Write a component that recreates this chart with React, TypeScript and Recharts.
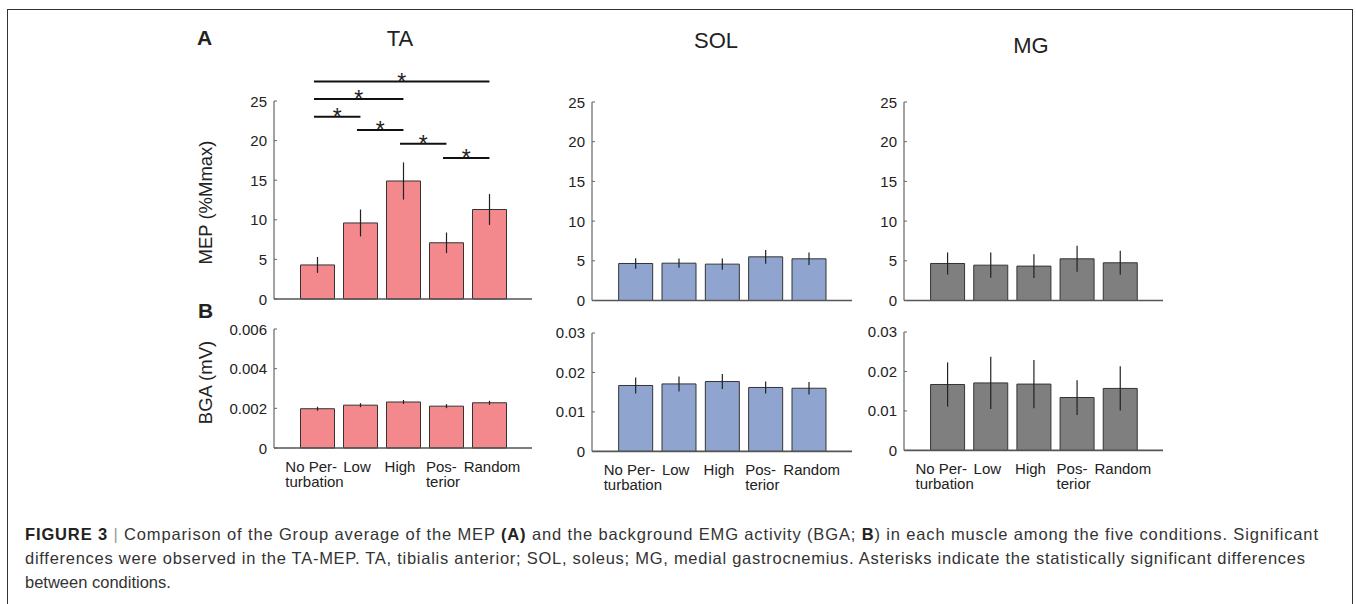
import React from 'react';
import { BarChart, Bar, XAxis, YAxis, ErrorBar, ReferenceLine } from 'recharts';

const conditions = ['No Per-\nturbation', 'Low', 'High', 'Pos-\nterior', 'Random'];

// MEP (%Mmax), group mean and error
const taMep = [4.3, 9.6, 14.9, 7.1, 11.3];
const taMepErr = [1.0, 1.7, 2.35, 1.3, 1.95];
const solMep = [4.66, 4.7, 4.58, 5.5, 5.25];
const solMepErr = [0.67, 0.59, 0.71, 0.86, 0.78];
const mgMep = [4.66, 4.45, 4.33, 5.25, 4.75];
const mgMepErr = [1.39, 1.58, 1.49, 1.64, 1.51];

// BGA (mV)
const taBga = [0.00198, 0.00216, 0.00232, 0.00211, 0.00228];
const taBgaErr = [0.0001, 0.0001, 0.0001, 0.0001, 0.0001];
const solBga = [0.0167, 0.0171, 0.0177, 0.0162, 0.016];
const solBgaErr = [0.002, 0.0019, 0.0019, 0.0015, 0.0016];
const mgBga = [0.0167, 0.0171, 0.0168, 0.0134, 0.0157];
const mgBgaErr = [0.0056, 0.0066, 0.0061, 0.0044, 0.0056];

const mepTicks = [0, 5, 10, 15, 20, 25];
const taBgaTicks = [0, 0.002, 0.004, 0.006];
const bgaTicks = [0, 0.01, 0.02, 0.03];

// significance brackets on TA-MEP
const sigFrom = [1, 1, 1, 2, 3, 4];
const sigTo = [5, 3, 2, 3, 4, 5];
const sigLevel = [27.45, 25.25, 23.0, 21.35, 19.6, 17.8];

const FONT = '"Liberation Sans", Arial, Helvetica, sans-serif';
const TA_RED = '#f4898d';
const SOL_BLUE = '#8fa5d0';
const MG_GREY = '#7f7f7f';

// small nudges of the category labels, as in the original layout
const labelShift = [-2.5, -3, -3, -3, 3];

let ctx: CanvasRenderingContext2D | null = null;
const textWidth = (s: string, size: number) => {
  if (!ctx) ctx = document.createElement('canvas').getContext('2d');
  if (!ctx) return s.length * size * 0.5;
  ctx.font = `${size}px ${FONT}`;
  return ctx.measureText(s).width;
};

const YTick = (props: any) => {
  const { x, y, payload } = props;
  return (
    <g>
      <line x1={x} x2={x + 3} y1={y} y2={y} stroke="#666" />
      <text x={x - 7} y={y} dy={5.5} textAnchor="end" fontSize={15} fontFamily={FONT} fill="#222">
        {String(payload.value)}
      </text>
    </g>
  );
};

const XTick = (props: any) => {
  const { x, y, payload } = props;
  const idx = payload.value - 1;
  const lines = conditions[idx].split('\n');
  const w = Math.max(...lines.map(l => textWidth(l, 15)));
  const x0 = x - w / 2 + labelShift[idx];
  return (
    <text x={x0} y={y + 24} fontSize={15} fontFamily={FONT} fill="#222">
      {lines.map((l, i) => (
        <tspan key={i} x={x0} dy={i === 0 ? 0 : 15}>{l}</tspan>
      ))}
    </text>
  );
};

interface PanelProps {
  left: number;
  right: number;
  top: number;
  bottom: number;
  values: number[];
  errors: number[];
  max: number;
  ticks: number[];
  fill: string;
  labels?: boolean;
  sig?: boolean;
}

const Panel: React.FC<PanelProps> = ({ left, right, top, bottom, values, errors, max, ticks, fill, labels, sig }) => {
  const padTop = sig ? 50 : 10;
  const padBottom = labels ? 50 : 12;
  const yw = 70;
  const data = values.map((v, i) => ({ x: i + 1, v, e: errors[i] }));
  return (
    <div style={{ position: 'absolute', left: left - yw, top: top - padTop }}>
      <BarChart
        width={right - left + yw + 6}
        height={bottom - top + padTop + padBottom}
        data={data}
        margin={{ top: padTop, right: 6, bottom: 0, left: 0 }}
      >
        <Bar dataKey="v" fill={fill} stroke="#333" strokeWidth={1} barSize={34} isAnimationActive={false}>
          <ErrorBar dataKey="e" width={0} stroke="#222" strokeWidth={1.2} direction="y" />
        </Bar>
        {sig &&
          sigFrom.map((f, i) => (
            <ReferenceLine
              key={i}
              ifOverflow="visible"
              segment={[
                { x: f - 0.07, y: sigLevel[i] },
                { x: sigTo[i] + 0.01, y: sigLevel[i] },
              ]}
              stroke="#111"
              strokeWidth={2}
              label={{ value: '*', position: 'top', offset: -8, fontSize: 23, fill: '#222', fontFamily: FONT }}
            />
          ))}
        <YAxis
          type="number"
          domain={[0, max]}
          ticks={ticks}
          width={yw}
          tickSize={0}
          tickMargin={0}
          tickLine={false}
          tick={<YTick />}
          axisLine={{ stroke: '#666', strokeWidth: 1.2 }}
          interval={0}
        />
        <XAxis
          type="number"
          dataKey="x"
          domain={[0, 6]}
          ticks={[1, 2, 3, 4, 5]}
          height={padBottom}
          tickSize={0}
          tickMargin={0}
          tickLine={false}
          tick={labels ? <XTick /> : false}
          axisLine={{ stroke: '#555', strokeWidth: 1.6 }}
          interval={0}
        />
      </BarChart>
    </div>
  );
};

const captionStyle = { fontFamily: FONT, fontSize: 16.5, fill: '#333' };

export default function App() {
  return (
    <div style={{ position: 'relative', width: 1356, height: 604, background: '#fff', overflow: 'hidden', fontFamily: FONT }}>
      <style>{`body{margin:0}`}</style>
      <div
        style={{
          position: 'absolute',
          left: 7,
          top: 9,
          width: 1346,
          height: 700,
          border: '1.5px solid #333',
          boxSizing: 'border-box',
        }}
      />
      <svg width={1356} height={604} style={{ position: 'absolute', left: 0, top: 0 }}>
        <text x={197} y={45} fontSize={21} fontWeight="bold" fill="#222" fontFamily={FONT}>A</text>
        <text x={198} y={318} fontSize={21} fontWeight="bold" fill="#222" fontFamily={FONT}>B</text>
        <text x={400} y={46} fontSize={22} textAnchor="middle" fill="#222" fontFamily={FONT}>TA</text>
        <text x={716} y={48} fontSize={22} textAnchor="middle" fill="#222" fontFamily={FONT}>SOL</text>
        <text x={1031} y={53} fontSize={22} textAnchor="middle" fill="#222" fontFamily={FONT}>MG</text>
        <text
          x={0}
          y={0}
          transform="translate(212 202.5) rotate(-90)"
          textAnchor="middle"
          fontSize={18.5}
          fill="#222"
          fontFamily={FONT}
        >
          MEP (%Mmax)
        </text>
        <text
          x={0}
          y={0}
          transform="translate(212 382.5) rotate(-90)"
          textAnchor="middle"
          fontSize={18.5}
          fill="#222"
          fontFamily={FONT}
        >
          BGA (mV)
        </text>
        <text x={25} y={540} textLength={1293} lengthAdjust="spacing" {...captionStyle}>
          <tspan fontWeight="bold" fill="#222">FIGURE 3</tspan>
          <tspan fill="#999"> | </tspan>
          <tspan>Comparison of the Group average of the MEP </tspan>
          <tspan fontWeight="bold" fill="#222">(A)</tspan>
          <tspan> and the background EMG activity (BGA; </tspan>
          <tspan fontWeight="bold" fill="#222">B</tspan>
          <tspan>) in each muscle among the five conditions. Significant</tspan>
        </text>
        <text x={25} y={564} textLength={1280} lengthAdjust="spacing" {...captionStyle}>
          differences were observed in the TA-MEP. TA, tibialis anterior; SOL, soleus; MG, medial gastrocnemius. Asterisks indicate the statistically significant differences
        </text>
        <text x={25} y={588} {...captionStyle}>
          between conditions.
        </text>
      </svg>

      <Panel left={274} right={532} top={101} bottom={299} values={taMep} errors={taMepErr} max={25} ticks={mepTicks} fill={TA_RED} sig />
      <Panel left={592} right={852} top={101.5} bottom={300} values={solMep} errors={solMepErr} max={25} ticks={mepTicks} fill={SOL_BLUE} />
      <Panel left={904} right={1163} top={101.5} bottom={300} values={mgMep} errors={mgMepErr} max={25} ticks={mepTicks} fill={MG_GREY} />

      <Panel left={274} right={532} top={329} bottom={448} values={taBga} errors={taBgaErr} max={0.006} ticks={taBgaTicks} fill={TA_RED} labels />
      <Panel left={592} right={852} top={333.3} bottom={451.7} values={solBga} errors={solBgaErr} max={0.03} ticks={bgaTicks} fill={SOL_BLUE} labels />
      <Panel left={904} right={1163} top={332.3} bottom={450.7} values={mgBga} errors={mgBgaErr} max={0.03} ticks={bgaTicks} fill={MG_GREY} labels />
    </div>
  );
}
